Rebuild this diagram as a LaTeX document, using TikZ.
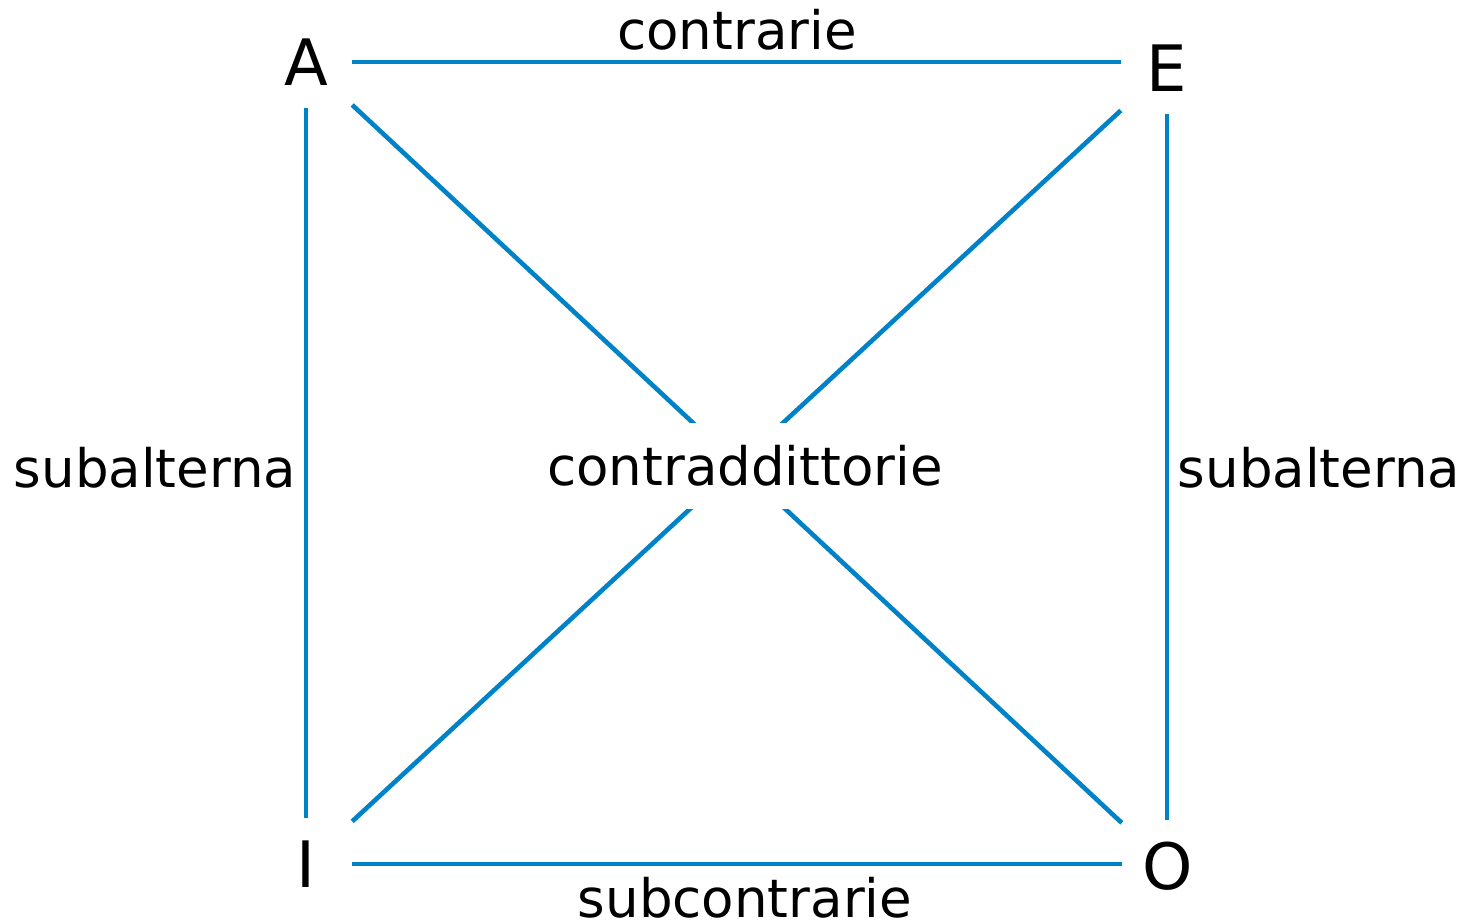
\documentclass[tikz,border=0pt]{standalone}
\usepackage{fontspec}
\setmainfont{DejaVu Sans}
\definecolor{lineblue}{HTML}{0082C8}
\begin{document}
\begin{tikzpicture}[x=1pt,y=-1pt,
  corner/.style={inner sep=0pt, minimum width=92pt, minimum height=92pt, font=\fontsize{64}{70}\selectfont},
  lab/.style={inner sep=0pt, font=\fontsize{53}{60}\selectfont},
  conn/.style={draw=lineblue, line width=4.6pt}]
\useasboundingbox (0,0) rectangle (1468,924);
\node[corner] (A) at (306,62) {A};
\node[corner] (E) at (1167,68) {E};
\node[corner] (I) at (306,864) {I};
\node[corner] (O) at (1168,866) {O};
\draw[conn] (A.east) -- (A.east -| E.west);
\draw[conn] (I.east) -- (I.east -| O.west);
\draw[conn] (A.south) -- (A.south |- I.north);
\draw[conn] (E.south) -- (E.south |- O.north);
\draw[conn] (A) -- (O);
\draw[conn] (E) -- (I);
\node[lab, fill=white, minimum height=86pt, inner xsep=4pt] (C) at (745,466) {contraddittorie};
\node[lab] (top) at (737,30) {contrarie};
\node[lab] (bot) at (745,898) {subcontrarie};
\node[lab] (left) at (155,468) {subalterna};
\node[lab] (right) at (1319,468) {subalterna};
\end{tikzpicture}
\end{document}
